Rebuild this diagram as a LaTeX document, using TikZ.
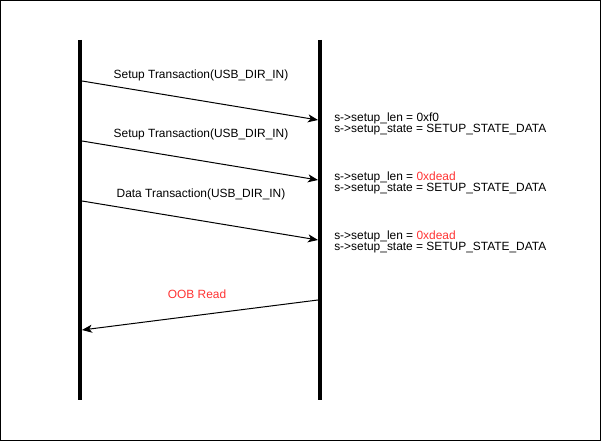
\documentclass[tikz,border=0pt]{standalone}
\usepackage{fontspec}
\setmainfont{Liberation Sans}
\usetikzlibrary{arrows.meta}
\definecolor{oobred}{HTML}{FF3333}
\begin{document}
\begin{tikzpicture}[x=0.75pt,y=-0.75pt,
  lifeline/.style={line width=3.6pt},
  msg/.style={line width=0.75pt,-{Stealth[length=7.5pt,width=6pt,inset=2pt]}},
  lbl/.style={font=\fontsize{8.95pt}{9pt}\selectfont,inner sep=0pt},
  state/.style={font=\fontsize{8.95pt}{9pt}\selectfont,inner sep=0pt,align=left,anchor=west}]
\useasboundingbox (0,0) rectangle (601,441);
\draw[line width=0.75pt] (0.5,0.5) rectangle (600.5,440.5);
% lifelines
\coordinate (Ltop) at (80,40);
\coordinate (Lbot) at (80,400);
\coordinate (Rtop) at (320,40);
\coordinate (Rbot) at (320,400);
\draw[lifeline] (Ltop) -- (Lbot);
\draw[lifeline] (Rtop) -- (Rbot);
% message endpoints
\coordinate (a1) at (82,81);  \coordinate (b1) at (318,120);
\coordinate (a2) at (82,141); \coordinate (b2) at (318,180);
\coordinate (a3) at (82,201); \coordinate (b3) at (318,240);
\coordinate (a4) at (318,300); \coordinate (b4) at (82,330);
\draw[msg] (a1) -- (b1);
\draw[msg] (a2) -- (b2);
\draw[msg] (a3) -- (b3);
\draw[msg] (a4) -- (b4);
% labels
\node[lbl] (t1) at (201,75) {Setup Transaction(USB\_DIR\_IN)};
\node[lbl] (t2) at (201,134) {Setup Transaction(USB\_DIR\_IN)};
\node[lbl] (t3) at (201,194) {Data Transaction(USB\_DIR\_IN)};
\node[lbl,text=oobred] (t4) at (197,294) {OOB Read};
% states
\node[state] (s1) at (334,118) {s->setup\_len = 0xf0};
\node[state] (s1b) at (334,130) {s->setup\_state = SETUP\_STATE\_DATA};
\node[state] (s2) at (334,177) {s->setup\_len = \textcolor{oobred}{0xdead}};
\node[state] (s2b) at (334,189) {s->setup\_state = SETUP\_STATE\_DATA};
\node[state] (s3) at (334,236) {s->setup\_len = \textcolor{oobred}{0xdead}};
\node[state] (s3b) at (334,248) {s->setup\_state = SETUP\_STATE\_DATA};
\end{tikzpicture}
\end{document}
